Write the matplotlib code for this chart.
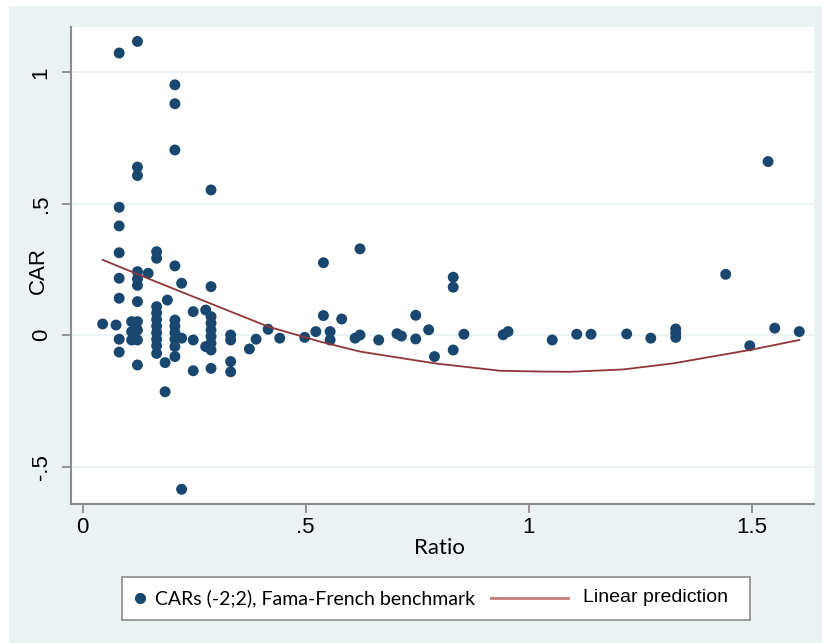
import matplotlib.pyplot as plt
from matplotlib.patches import Rectangle
from matplotlib.lines import Line2D

# Scatter data (Ratio, CAR), grouped by ratio column
ratio = [0.045, 0.075,
         0.082, 0.082, 0.082, 0.082, 0.082, 0.082, 0.082, 0.082,
         0.110, 0.110, 0.110,
         0.123, 0.123, 0.123, 0.123, 0.123, 0.123, 0.123, 0.123, 0.123, 0.123, 0.123,
         0.147,
         0.166, 0.166, 0.166, 0.166, 0.166, 0.166, 0.166, 0.166, 0.166, 0.166,
         0.185, 0.185, 0.190,
         0.207, 0.207, 0.207, 0.207, 0.207, 0.207, 0.207, 0.207, 0.207, 0.207,
         0.222, 0.222, 0.222,
         0.248, 0.248, 0.248,
         0.276, 0.276,
         0.288, 0.288, 0.288, 0.288, 0.288, 0.288, 0.288, 0.288, 0.288,
         0.332, 0.332, 0.332, 0.332,
         0.374, 0.389, 0.416, 0.442, 0.498, 0.523,
         0.540, 0.540, 0.555, 0.555, 0.581, 0.611, 0.622, 0.622,
         0.664, 0.705, 0.715, 0.747, 0.747, 0.776, 0.789,
         0.831, 0.831, 0.831, 0.855, 0.943, 0.954,
         1.053, 1.108, 1.140, 1.220, 1.274, 1.330, 1.330, 1.330,
         1.442, 1.496, 1.537, 1.552, 1.607]
car = [0.043, 0.039,
       1.074, 0.487, 0.416, 0.314, 0.217, 0.141, -0.015, -0.064,
       0.052, 0.014, -0.018,
       1.118, 0.640, 0.608, 0.242, 0.215, 0.190, 0.128, 0.052, 0.020, -0.018, -0.113,
       0.236,
       0.318, 0.293, 0.109, 0.085, 0.060, 0.035, 0.010, -0.015, -0.040, -0.069,
       -0.104, -0.215, 0.134,
       0.953, 0.881, 0.705, 0.264, 0.058, 0.035, 0.010, -0.015, -0.043, -0.081,
       0.198, -0.011, -0.586,
       0.090, -0.018, -0.135,
       0.096, -0.043,
       0.553, 0.185, 0.071, 0.046, 0.020, -0.005, -0.030, -0.056, -0.126,
       0.001, -0.018, -0.100, -0.139,
       -0.052, -0.015, 0.023, -0.011, -0.008, 0.014,
       0.276, 0.075, 0.014, -0.018, 0.062, -0.011, 0.329, 0.001,
       -0.018, 0.006, -0.003, 0.076, -0.014, 0.021, -0.081,
       0.221, 0.183, -0.056, 0.004, 0.002, 0.014,
       -0.018, 0.004, 0.004, 0.005, -0.011, 0.024, 0.008, -0.008,
       0.232, -0.040, 0.661, 0.027, 0.014]

# Fitted prediction curve
fit_x = [0.045, 0.173, 0.285, 0.416, 0.532, 0.622, 0.790, 0.936, 1.025, 1.093,
         1.212, 1.324, 1.496, 1.607]
fit_y = [0.287, 0.198, 0.122, 0.033, -0.024, -0.062, -0.107, -0.135, -0.138, -0.139,
         -0.130, -0.107, -0.056, -0.018]

x_ticks = [0, 0.5, 1, 1.5]
x_labels = ['0', '.5', '1', '1.5']
y_ticks = [-0.5, 0, 0.5, 1]
y_labels = ['-.5', '0', '.5', '1']
legend_labels = ['CARs (-2;2), Fama-French benchmark', 'Linear prediction']

navy = '#1a476f'
maroon = '#90353b'
bg = '#eaf2f3'
W, H = 822, 643

fig = plt.figure(figsize=(8.22, 6.43), dpi=100)
fig.patch.set_facecolor('white')
fig.patches.append(Rectangle((9 / W, 0), 1, 1 - 6 / H, transform=fig.transFigure,
                             facecolor=bg, edgecolor='none', zorder=-5))

ax = fig.add_axes([71 / W, 1 - 504 / H, 743 / W, 477 / H])
ax.set_facecolor('white')
ax.scatter(ratio, car, s=62, color=navy, edgecolors='none', zorder=3)
ax.plot(fit_x, fit_y, color=maroon, lw=1.3, zorder=4)

ax.set_xlim(-0.026, 1.64)
ax.set_ylim(-0.642, 1.173)
ax.set_xticks(x_ticks, x_labels, fontsize=16, family='Liberation Sans')
ax.set_yticks(y_ticks, y_labels, fontsize=16, family='Liberation Sans',
              rotation=90, va='center', ha='center')
ax.grid(axis='y', color=bg, lw=1.3)
ax.set_axisbelow(True)
for side in ['top', 'right']:
    ax.spines[side].set_visible(False)
for side in ['left', 'bottom']:
    ax.spines[side].set_color('#8c8c8c')
    ax.spines[side].set_linewidth(1.5)
ax.tick_params(colors='#8c8c8c', labelcolor='black', length=6.5, width=1.3)
ax.tick_params(axis='x', pad=3)
ax.tick_params(axis='y', pad=15)

ax.set_xlabel('Ratio', fontsize=16, family='Lato')
ax.xaxis.set_label_coords((439 - 71) / 743, (504 - 548) / 477)
ax.xaxis.label.set_va('center')
ax.set_ylabel('CAR', fontsize=16, family='Liberation Sans')
ax.yaxis.set_label_coords((38 - 71) / 743, (504 - 270) / 477)
ax.yaxis.label.set_va('center')

# legend box drawn by hand to match the Stata layout
ly = 1 - 598 / H
fig.patches.append(Rectangle((122 / W, 1 - 620 / H), 628 / W, 43 / H,
                             transform=fig.transFigure, facecolor='white',
                             edgecolor='#8c8c8c', lw=1.2, zorder=5))
fig.add_artist(Line2D([140 / W], [ly], marker='o', ls='none', color=navy,
                      markersize=7, transform=fig.transFigure, zorder=6))
fig.text(155 / W, ly, legend_labels[0], family='Lato', fontsize=14,
         va='center', ha='left', zorder=6)
fig.add_artist(Line2D([491 / W, 568 / W], [ly, ly], color='#c07c7c', lw=2,
                      transform=fig.transFigure, zorder=6))
fig.text(583 / W, ly, legend_labels[1], family='Liberation Sans', fontsize=14,
         va='center', ha='left', zorder=6)

fig.savefig('out.png', dpi=100, facecolor=fig.get_facecolor())
